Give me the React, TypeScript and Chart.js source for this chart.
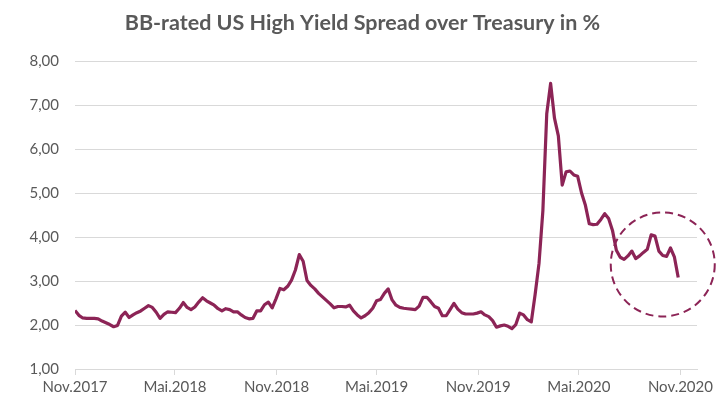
import React, { useEffect, useRef } from "react";
import { Chart, registerables } from "chart.js";

Chart.register(...registerables);

// Weekly observations starting Nov 1, 2017 (days since start = 7 * index)
const daysPerStep = 7;
const spreadValues: number[] = [
  2.33, 2.22, 2.16, 2.15, 2.15, 2.15, 2.14, 2.09, 2.05, 2.01,
  1.96, 1.99, 2.2, 2.29, 2.17, 2.23, 2.28, 2.32, 2.38, 2.44,
  2.4, 2.29, 2.15, 2.24, 2.3, 2.29, 2.28, 2.38, 2.51, 2.4,
  2.35, 2.41, 2.52, 2.62, 2.55, 2.5, 2.45, 2.37, 2.32, 2.37,
  2.35, 2.3, 2.3, 2.23, 2.17, 2.14, 2.15, 2.32, 2.32, 2.46,
  2.52, 2.39, 2.6, 2.83, 2.8, 2.88, 3.02, 3.25, 3.6, 3.45,
  3.01, 2.9, 2.82, 2.72, 2.64, 2.56, 2.48, 2.39, 2.42, 2.42,
  2.41, 2.45, 2.32, 2.23, 2.16, 2.21, 2.28, 2.38, 2.55, 2.58,
  2.72, 2.82, 2.57, 2.45, 2.4, 2.38, 2.37, 2.36, 2.35, 2.43,
  2.63, 2.63, 2.53, 2.42, 2.38, 2.21, 2.21, 2.35, 2.49, 2.36,
  2.28, 2.25, 2.25, 2.25, 2.27, 2.3, 2.23, 2.19, 2.1, 1.95,
  1.98, 2.0, 1.97, 1.92, 2.01, 2.27, 2.23, 2.12, 2.07, 2.7,
  3.4, 4.6, 6.8, 7.49, 6.7, 6.3, 5.18, 5.48, 5.5, 5.41,
  5.38, 5.0, 4.72, 4.3, 4.28, 4.29, 4.4, 4.53, 4.42, 4.15,
  3.7, 3.54, 3.49, 3.57, 3.68, 3.51, 3.57, 3.65, 3.72, 4.05,
  4.02, 3.68, 3.58, 3.56, 3.75, 3.55, 3.08,
];

// x-axis ticks (days since Nov 1, 2017) and their labels
const tickDays = [0, 181, 365, 546, 730, 912, 1096];
const tickLabels = ["Nov.2017", "Mai.2018", "Nov.2018", "Mai.2019", "Nov.2019", "Mai.2020", "Nov.2020"];
const axisEndDay = 1126;

// y-axis
const yMin = 1;
const yMax = 8;
const yStep = 1;

// highlight circle (data coordinates) around recent values
const highlightDay = 1064;
const highlightValue = 3.375;

const TITLE = "BB-rated US High Yield Spread over Treasury in %";
const LINE_COLOR = "#8C2456";
const TEXT_COLOR = "#595959";
const GRID_COLOR = "#d9d9d9";
const FONT = "Lato, 'Open Sans', sans-serif";

const circlePlugin = {
  id: "highlightCircle",
  afterDatasetsDraw(chart: any) {
    const { ctx, scales } = chart;
    const cx = scales.x.getPixelForValue(highlightDay);
    const cy = scales.y.getPixelForValue(highlightValue);
    const r = 52;
    ctx.save();
    ctx.beginPath();
    ctx.setLineDash([8, 5]);
    ctx.lineWidth = 2;
    ctx.strokeStyle = LINE_COLOR;
    ctx.arc(cx, cy, r, 0, Math.PI * 2);
    ctx.stroke();
    ctx.restore();
  },
};

export default function App() {
  const canvasRef = useRef<HTMLCanvasElement | null>(null);

  useEffect(() => {
    document.body.style.margin = "0";
    const canvas = canvasRef.current;
    if (!canvas) return;
    const points = spreadValues.map((v, i) => ({ x: i * daysPerStep, y: v }));
    const chart = new Chart(canvas, {
      type: "line",
      data: {
        datasets: [
          {
            data: points,
            borderColor: LINE_COLOR,
            borderWidth: 3.2,
            pointRadius: 0,
            tension: 0,
            fill: false,
            borderJoinStyle: "round",
          } as any,
        ],
      },
      options: {
        animation: false,
        responsive: false,
        maintainAspectRatio: false,
        layout: { padding: { left: 0, right: 0, top: 0, bottom: 0 } },
        plugins: {
          legend: { display: false },
          tooltip: { enabled: false },
          title: {
            display: true,
            text: TITLE,
            color: TEXT_COLOR,
            font: { family: FONT, size: 21.5, weight: "bold" },
            padding: { top: 10, bottom: 25.2 },
          },
        },
        scales: {
          x: {
            type: "linear",
            min: 0,
            max: axisEndDay,
            afterBuildTicks: (scale: any) => {
              scale.ticks = tickDays.map((d) => ({ value: d }));
            },
            afterFit: (scale: any) => {
              scale.height = 29;
            },
            ticks: {
              autoSkip: false,
              maxRotation: 0,
              padding: 3,
              color: TEXT_COLOR,
              font: { family: FONT, size: 15 },
              callback: (value: any) => {
                const idx = tickDays.indexOf(Number(value));
                return idx >= 0 ? tickLabels[idx] : "";
              },
            },
            grid: {
              drawOnChartArea: false,
              drawTicks: true,
              tickLength: 6,
              color: GRID_COLOR,
            },
            border: { display: true, color: GRID_COLOR, width: 1 },
          },
          y: {
            min: yMin,
            max: yMax,
            afterFit: (scale: any) => {
              scale.width = 75;
            },
            ticks: {
              stepSize: yStep,
              padding: 16,
              color: TEXT_COLOR,
              font: { family: FONT, size: 15 },
              callback: (value: any) => Number(value).toFixed(2).replace(".", ","),
            },
            grid: { color: GRID_COLOR, drawTicks: false, lineWidth: 1 },
            border: { display: false },
          },
          yRight: {
            position: "right",
            min: yMin,
            max: yMax,
            afterFit: (scale: any) => {
              scale.width = 28;
            },
            ticks: { display: false },
            grid: { display: false },
            border: { display: false },
          },
        },
      },
      plugins: [circlePlugin],
    });
    return () => chart.destroy();
  }, []);

  return (
    <div style={{ width: 725, height: 398, background: "#fff" }}>
      <canvas ref={canvasRef} width={725} height={398} style={{ display: "block" }} />
    </div>
  );
}
